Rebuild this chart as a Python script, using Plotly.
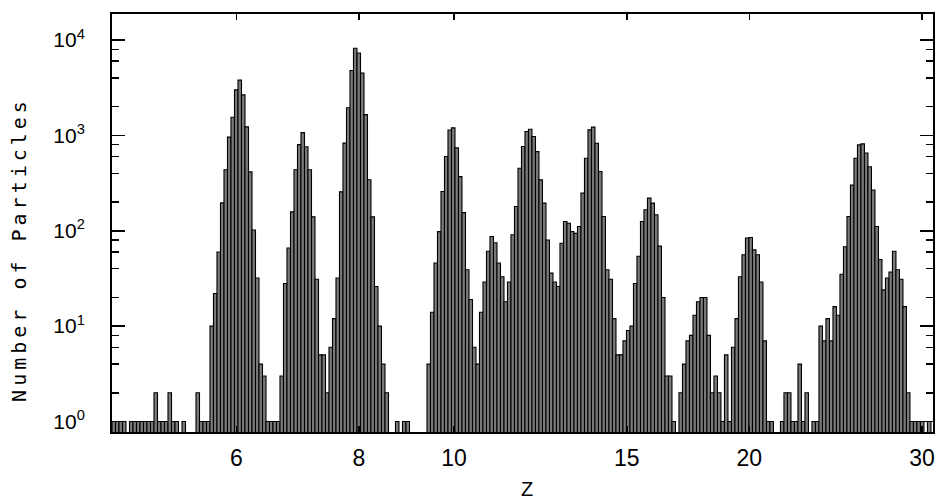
import math
import plotly.graph_objects as go

# ---------------- data ----------------
# Histogram bins are uniform in log10(Z)
LOG_Z_FIRST_EDGE = 0.6513      # log10(Z) of the left edge of the first bin
LOG_Z_BIN_WIDTH = 0.003568     # bin width in log10(Z)

COUNTS_LOW = [1, 1, 1, 1, 0, 1, 1, 1, 1, 1, 1, 1, 2, 1, 1, 1, 2, 1, 1, 0, 1, 0, 0, 0, 2, 1, 1, 1]
COUNTS_C = [10, 22, 60, 196, 436, 960, 1550, 3000, 3800, 2660, 1230, 415, 102, 32, 4, 3, 1, 1, 1, 1]
COUNTS_N = [3, 28, 66, 158, 436, 800, 1070, 760, 436, 140, 31, 5, 5, 2, 6, 12, 32]
COUNTS_O = [256, 830, 1950, 4800, 8200, 7300, 4500, 1650, 343, 140, 26, 10, 4, 2]
COUNTS_GAP = [0, 0, 1, 0, 1, 1, 0, 0, 0, 0, 0]
COUNTS_NE = [4, 14, 46, 98, 258, 600, 1140, 1200, 740, 370, 155, 39, 19, 6, 4]
COUNTS_NA = [14, 29, 61, 87, 75, 46, 33, 18]
COUNTS_MG = [29, 91, 180, 453, 764, 1100, 1160, 973, 676, 342, 195, 80, 36, 29, 26]
COUNTS_AL_SI = [74, 125, 120, 98, 94, 111, 248, 577, 1142, 1220, 828, 418, 141, 39, 31, 12, 5]
COUNTS_S = [5, 7, 9, 10, 28, 54, 125, 166, 220, 195, 147, 69, 20, 3, 3, 1, 0]
COUNTS_AR = [2, 4, 7, 8, 13, 18, 20, 20, 8, 2, 3, 2, 1, 5, 1, 6, 12]
COUNTS_CA = [33, 56, 84, 85, 63, 56, 29, 7, 1, 1]
COUNTS_SMALL = [0, 0, 1, 2, 2, 1, 1, 4, 1, 2, 0, 1, 1]
COUNTS_FE_NI = [10, 7, 12, 7, 16, 13, 35, 68, 141, 302, 577, 795, 815, 655, 470, 268, 111, 50,
                24, 32, 37, 61, 39, 31, 16, 2, 1, 1, 1, 1, 0, 1]

Z_TICKS = [6, 8, 10, 15, 20, 30]
Y_TICKS = [1, 10, 100, 1000, 10000]
Y_TICK_LABELS = ["10<sup>0</sup>", "10<sup>1</sup>", "10<sup>2</sup>", "10<sup>3</sup>", "10<sup>4</sup>"]
Y_MINOR_TICKS = [2, 4, 6, 8, 20, 40, 60, 80, 200, 400, 600, 800, 2000, 4000, 6000, 8000, 20000]

X_TITLE = "Z"
Y_TITLE = "Number of Particles"

# ---------------- build ----------------
COUNTS = (COUNTS_LOW + COUNTS_C + COUNTS_N + COUNTS_O + COUNTS_GAP + COUNTS_NE + COUNTS_NA
          + COUNTS_MG + COUNTS_AL_SI + COUNTS_S + COUNTS_AR + COUNTS_CA + COUNTS_SMALL + COUNTS_FE_NI)

centers = [LOG_Z_FIRST_EDGE + (i + 0.5) * LOG_Z_BIN_WIDTH for i in range(len(COUNTS))]
yvals = [c if c > 0 else None for c in COUNTS]

TICKFONT = "'Liberation Sans', Arial, sans-serif"
MONO = "'DejaVu Sans Mono', 'Liberation Mono', monospace"

fig = go.Figure(
    go.Bar(
        x=centers,
        y=yvals,
        width=LOG_Z_BIN_WIDTH,
        marker=dict(color="#7a7a7a", line=dict(color="black", width=1.1)),
        hoverinfo="skip",
    )
)

fig.update_layout(
    width=936,
    height=502,
    margin=dict(l=112, r=3, t=14, b=70),
    paper_bgcolor="white",
    plot_bgcolor="white",
    bargap=0,
    showlegend=False,
    xaxis=dict(
        range=[0.6513, 1.4883],
        tickmode="array",
        tickvals=[math.log10(z) for z in Z_TICKS],
        ticktext=[str(z) for z in Z_TICKS],
        ticks="inside",
        ticklen=6,
        tickwidth=1.5,
        tickcolor="black",
        showline=True,
        linewidth=2,
        linecolor="black",
        mirror="ticks",
        showgrid=False,
        zeroline=False,
        automargin=False,
        tickfont=dict(family=TICKFONT, size=23, color="black"),
        ticklabelstandoff=4,
    ),
    yaxis=dict(
        type="log",
        range=[-0.11, 4.273],
        tickmode="array",
        tickvals=Y_TICKS,
        ticktext=Y_TICK_LABELS,
        ticks="inside",
        ticklen=13,
        tickwidth=1.5,
        tickcolor="black",
        minor=dict(tickvals=Y_MINOR_TICKS, ticks="inside", ticklen=7, tickwidth=1.5, tickcolor="black"),
        showline=True,
        linewidth=2,
        linecolor="black",
        mirror="ticks",
        showgrid=False,
        zeroline=False,
        automargin=False,
        tickfont=dict(family=TICKFONT, size=21, color="black"),
        ticklabelstandoff=21,
    ),
    annotations=[
        dict(text=Y_TITLE, xref="paper", yref="paper", x=-0.1133, y=0.438, textangle=-90,
             showarrow=False, xanchor="center", yanchor="middle",
             font=dict(family=MONO, size=20, color="black")),
        dict(text=X_TITLE, xref="paper", yref="paper", x=0.5055, y=-0.136,
             showarrow=False, xanchor="center", yanchor="middle",
             font=dict(family=TICKFONT, size=20, color="black")),
    ],
)

post = """
document.body.style.margin = '0';
document.body.style.padding = '0';
document.documentElement.style.overflow = 'hidden';
document.querySelectorAll('.annotation-text').forEach(function(t){
  if (t.textContent === 'Number of Particles') { t.style.letterSpacing = '4px'; }
});
"""

fig.write_html("out.html", post_script=post, config={"displayModeBar": False, "staticPlot": True})
